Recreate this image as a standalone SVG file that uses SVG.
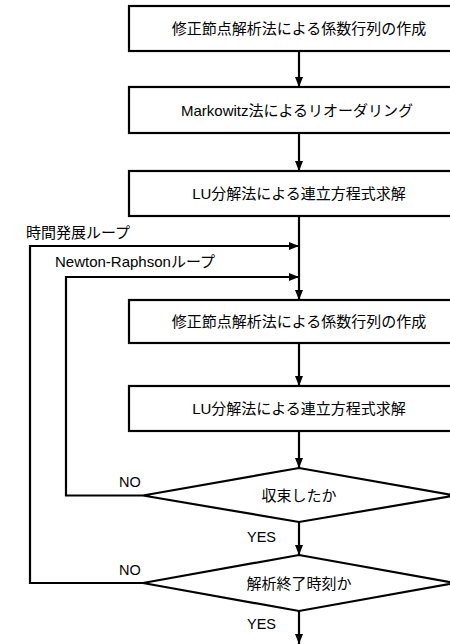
<svg xmlns="http://www.w3.org/2000/svg" width="450" height="644" viewBox="0 0 450 644">
<style>
.box{fill:#fff;stroke:#000;stroke-width:2.2}
.ln{fill:none;stroke:#000;stroke-width:2.2}
.t{font-family:"Liberation Sans","Noto Sans CJK JP",sans-serif;font-size:15px;fill:#000}
.c{text-anchor:middle}
.s{font-size:14.5px}
</style>
<defs>
<marker id="ah" viewBox="0 0 10 8" refX="10" refY="4" markerWidth="10" markerHeight="8" markerUnits="userSpaceOnUse" orient="auto">
<path d="M0,0 L10,4 L0,8 Z" fill="#000"/>
</marker>
</defs>
<rect width="450" height="644" fill="#fff"/>
<g id="connectors">
<line class="ln" x1="299" y1="51" x2="299" y2="87" marker-end="url(#ah)"/>
<line class="ln" x1="299" y1="133" x2="299" y2="171" marker-end="url(#ah)"/>
<line class="ln" x1="299" y1="216" x2="299" y2="300" marker-end="url(#ah)"/>
<polyline class="ln" points="143,583 30,583 30,246 299,246" marker-end="url(#ah)"/>
<polyline class="ln" points="143,495.5 66,495.5 66,277 299,277" marker-end="url(#ah)"/>
<line class="ln" x1="299" y1="343" x2="299" y2="386" marker-end="url(#ah)"/>
<line class="ln" x1="299" y1="431" x2="299" y2="468" marker-end="url(#ah)"/>
<line class="ln" x1="299" y1="522" x2="299" y2="555" marker-end="url(#ah)"/>
<line class="ln" x1="299" y1="611" x2="299" y2="644" marker-end="url(#ah)"/>
<text class="t" x="26" y="238">時間発展ループ</text>
<text class="t" x="55" y="267">Newton-Raphsonループ</text>
<text class="t s" x="119" y="487">NO</text>
<text class="t s" x="247" y="542">YES</text>
<text class="t s" x="119" y="575">NO</text>
<text class="t s" x="247" y="629">YES</text>
</g>
<g id="n1">
<rect class="box" x="129" y="6" width="340" height="45"/>
<text class="t c" x="299" y="34">修正節点解析法による係数行列の作成</text>
</g>
<g id="n2">
<rect class="box" x="129" y="87" width="340" height="46"/>
<text class="t c" x="297" y="115.5">Markowitz法によるリオーダリング</text>
</g>
<g id="n3">
<rect class="box" x="129" y="171" width="340" height="45"/>
<text class="t c" x="299" y="199">LU分解法による連立方程式求解</text>
</g>
<g id="n4">
<rect class="box" x="129" y="300" width="340" height="43"/>
<text class="t c" x="299" y="327">修正節点解析法による係数行列の作成</text>
</g>
<g id="n5">
<rect class="box" x="129" y="386" width="340" height="45"/>
<text class="t c" x="299" y="414">LU分解法による連立方程式求解</text>
</g>
<g id="d1">
<polygon class="box" points="299,468 455,495.5 299,522 143,495.5"/>
<text class="t c" x="299" y="500.5">収束したか</text>
</g>
<g id="d2">
<polygon class="box" points="299,555 455,583 299,611 143,583"/>
<text class="t c" x="299" y="588.5">解析終了時刻か</text>
</g>
</svg>
